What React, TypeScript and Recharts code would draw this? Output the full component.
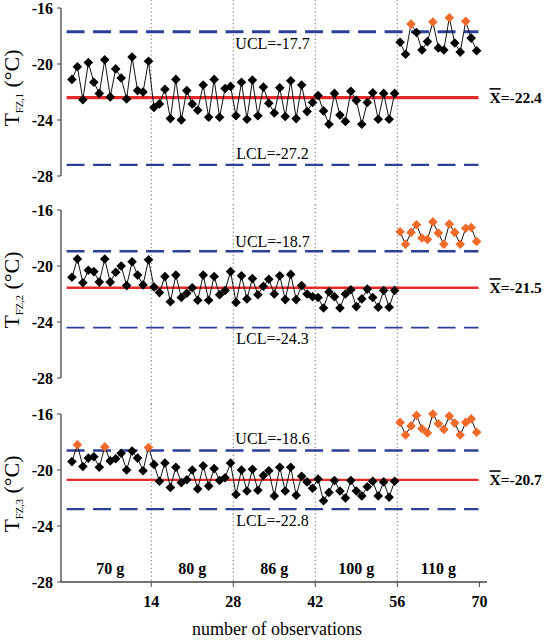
import React from 'react';
import { ComposedChart, Line, XAxis, YAxis, ReferenceLine, ReferenceDot } from 'recharts';

// 75 observations: 5 loads x 15 observations, spread over the 0-70 axis
const observationsPerLoad = 15;
const loadCount = 5;
const axisSpan = 70;
const xTicks = [14, 28, 42, 56, 70];
const yTicks = [-28, -24, -20, -16];
const dividers = [14, 28, 42, 56];
const loadLabels = ['70 g', '80 g', '86 g', '100 g', '110 g'];
const loadCentres = [7, 21, 35, 49, 63];

const tfz1 = [
  -21.1, -20.2, -22.55, -19.9, -21.3, -22.1, -19.7, -22.35, -20.35, -21.0, -22.5, -19.5, -21.9, -22.0, -19.8,
  -23.1, -22.85, -21.8, -23.9, -21.1, -24.0, -21.9, -22.85, -23.3, -21.5, -23.8, -21.1, -23.8, -21.75, -21.6,
  -23.7, -21.3, -23.95, -21.15, -23.7, -21.65, -22.8, -23.5, -21.7, -23.75, -21.2, -23.9, -21.5, -23.4, -22.75,
  -22.25, -23.35, -24.3, -22.1, -23.65, -24.1, -21.95, -22.6, -24.3, -22.75, -22.05, -23.95, -22.1, -23.95, -22.1,
  -18.45, -19.3, -17.15, -17.75, -19.0, -18.4, -17.0, -18.85, -19.0, -16.7, -18.5, -19.15, -16.95, -18.15, -19.05,
];
const tfz2 = [
  -20.8, -19.5, -21.2, -20.3, -20.4, -21.15, -19.5, -21.15, -20.45, -20.0, -21.4, -19.7, -20.65, -21.35, -19.55,
  -21.5, -21.9, -20.75, -22.55, -20.65, -22.25, -21.95, -21.55, -22.45, -20.65, -22.45, -20.75, -22.05, -21.75, -20.4,
  -22.6, -20.7, -22.35, -20.9, -22.05, -21.45, -20.95, -22.0, -20.7, -22.4, -20.6, -22.4, -21.4, -22.0, -22.2,
  -22.25, -23.0, -21.85, -22.2, -23.0, -22.0, -21.7, -22.9, -22.35, -21.65, -22.25, -22.95, -21.75, -22.95, -21.75,
  -17.55, -18.45, -17.6, -17.05, -18.0, -18.1, -16.85, -17.65, -18.45, -17.0, -17.6, -18.45, -17.3, -17.25, -18.25,
];
const tfz3 = [
  -19.4, -18.2, -19.75, -19.15, -19.05, -19.8, -18.35, -19.35, -19.2, -18.8, -20.0, -18.65, -19.15, -20.05, -18.4,
  -19.6, -20.8, -19.5, -21.25, -19.8, -20.9, -20.7, -20.0, -21.35, -19.7, -21.15, -19.9, -20.75, -20.55, -19.5,
  -21.75, -20.0, -21.5, -19.95, -21.45, -20.4, -20.05, -21.85, -19.8, -21.5, -19.8, -21.8, -20.45, -20.85, -21.3,
  -20.65, -22.2, -21.6, -20.75, -21.5, -22.0, -20.75, -21.5, -21.85, -21.2, -20.8, -21.85, -20.85, -21.95, -20.8,
  -16.6, -17.5, -16.85, -16.1, -17.05, -17.35, -16.0, -16.7, -17.1, -16.15, -16.65, -17.5, -16.6, -16.35, -17.3,
];

const panelSubscripts = ['FZ,1', 'FZ,2', 'FZ,3'];
const uclLabels = ['-17.7', '-18.7', '-18.6'];
const uclValues = [-17.7, -18.95, -18.6];
const meanLabels = ['-22.4', '-21.5', '-20.7'];
const meanValues = [-22.4, -21.55, -20.7];
const lclLabels = ['-27.2', '-24.3', '-22.8'];
const lclValues = [-27.2, -24.4, -22.8];
const limitStart = -0.45;
const limitEnd = 69.85;

const ORANGE = '#F26A2A';
const BLUE = '#2F3F98';
const RED = '#E42A2A';
const AXIS = '#444';
const SERIF = "'Liberation Serif', 'Times New Roman', serif";

const spacing = axisSpan / (observationsPerLoad * loadCount);

function buildRows(values: number[]) {
  const split = observationsPerLoad * (loadCount - 1);
  return values.map((v, i) => ({
    x: (i + 0.5) * spacing,
    a: i < split ? v : null,
    b: i >= split ? v : null,
  }));
}

const makeDot = (ucl: number, key: string) => (props: any) => {
  const { cx, cy, index, payload } = props;
  const value = payload ? payload[key] : null;
  if (cx == null || cy == null || value == null || isNaN(cx) || isNaN(cy)) {
    return <g key={`e${key}${index}`} />;
  }
  const r = 4.8;
  return (
    <path
      key={`d${key}${index}`}
      d={`M${cx},${cy - r}L${cx + r},${cy}L${cx},${cy + r}L${cx - r},${cy}Z`}
      fill={value > ucl ? ORANGE : '#000'}
    />
  );
};

const centredText = (text: string, dy: number) => (p: any) => {
  const vb = p.viewBox || {};
  return (
    <text x={vb.x + vb.width / 2} y={vb.y + dy} textAnchor="middle" fontFamily={SERIF} fontSize={16} fill="#000">
      {text}
    </text>
  );
};

const meanText = (text: string) => (p: any) => {
  const vb = p.viewBox || {};
  return (
    <text x={vb.x + vb.width + 11} y={vb.y + 5.5} textAnchor="start" fontFamily={SERIF} fontSize={15.5} fontWeight={700} fill="#000">
      <tspan style={{ textDecoration: 'overline' }}>X</tspan>
      <tspan>={text}</tspan>
    </text>
  );
};

const yLabel = (sub: string) => (p: any) => {
  const vb = p.viewBox || {};
  const cx = 19;
  const cy = vb.y + vb.height / 2 - 4;
  return (
    <text x={cx} y={cy} transform={`rotate(-90 ${cx} ${cy})`} textAnchor="middle" fontFamily={SERIF} fontSize={22} fill="#000">
      <tspan>T</tspan>
      <tspan fontSize={10.5} dy={4}>{sub}</tspan>
      <tspan dy={-4}> (°C)</tspan>
    </text>
  );
};

const groupText = (text: string) => (p: any) => {
  const vb = p.viewBox || {};
  return (
    <text x={vb.x + vb.width / 2} y={vb.y + vb.height / 2} textAnchor="middle" fontFamily={SERIF} fontSize={16} fontWeight={700} fill="#000">
      {text}
    </text>
  );
};

const xTitle = (p: any) => {
  const vb = p.viewBox || {};
  return (
    <text x={vb.x + vb.width / 2 + 3} y={vb.y + 53} textAnchor="middle" fontFamily={SERIF} fontSize={18} fill="#000">
      number of observations
    </text>
  );
};

type Layout = {
  height: number;
  mTop: number;
  mBottom: number;
  xHeight: number;
  showX: boolean;
  uclDy: number;
  lclDy: number;
  divTop: number;
  divBottom: number;
  uclWidth: number;
  meanWidth: number;
  lclWidth: number;
};

const layouts: Layout[] = [
  { height: 202, mTop: 8, mBottom: 26, xHeight: 0, showX: false, uclDy: 17.5, lclDy: -5.7, divTop: -15.4, divBottom: -30, uclWidth: 3, meanWidth: 3.4, lclWidth: 2.2 },
  { height: 202, mTop: 8, mBottom: 26, xHeight: 0, showX: false, uclDy: -4.5, lclDy: 16.5, divTop: -15.3, divBottom: -30, uclWidth: 2.6, meanWidth: 2.5, lclWidth: 1.8 },
  { height: 236, mTop: 10, mBottom: 0, xHeight: 58, showX: true, uclDy: -6.5, lclDy: 17, divTop: -15.0, divBottom: -28, uclWidth: 2.5, meanWidth: 2.2, lclWidth: 2.3 },
];

function Panel({ k }: { k: number }) {
  const values = [tfz1, tfz2, tfz3][k];
  const L = layouts[k];
  const rows = buildRows(values);
  const uclNum = parseFloat(uclLabels[k]);
  return (
    <ComposedChart
      width={546}
      height={L.height}
      data={rows}
      margin={{ top: L.mTop, right: 59, bottom: L.mBottom, left: 0 }}
    >
      <XAxis
        dataKey="x"
        type="number"
        domain={[-1.4, 71.3]}
        ticks={xTicks}
        height={L.xHeight}
        tick={L.showX ? { fontFamily: SERIF, fontSize: 16, fontWeight: 700, fill: '#000' } : false}
        tickLine={L.showX ? { stroke: AXIS } : false}
        tickSize={5}
        tickMargin={9}
        axisLine={{ stroke: AXIS, strokeWidth: 1.3 }}
        label={L.showX ? xTitle : undefined}
        interval={0}
      />
      <YAxis
        type="number"
        domain={[-28, -16]}
        ticks={yTicks}
        width={61}
        tick={{ fontFamily: SERIF, fontSize: 16, fontWeight: 700, fill: '#000' }}
        tickLine={{ stroke: AXIS }}
        tickSize={4}
        tickMargin={4}
        axisLine={{ stroke: AXIS, strokeWidth: 1.3 }}
        label={yLabel(panelSubscripts[k])}
        interval={0}
      />
      {dividers.map((d) => (
        <ReferenceLine
          key={`v${d}`}
          segment={[{ x: d, y: L.divTop }, { x: d, y: L.divBottom }]}
          ifOverflow="visible"
          stroke="#8a8a8a"
          strokeWidth={1.2}
          strokeDasharray="1.3 2.6"
        />
      ))}
      <ReferenceLine
        segment={[{ x: limitStart, y: uclValues[k] }, { x: limitEnd, y: uclValues[k] }]}
        ifOverflow="visible"
        stroke={BLUE}
        strokeWidth={L.uclWidth}
        strokeDasharray="18 8.5"
        label={centredText(`UCL=${uclLabels[k]}`, L.uclDy)}
      />
      <ReferenceLine
        segment={[{ x: limitStart, y: lclValues[k] }, { x: limitEnd, y: lclValues[k] }]}
        ifOverflow="visible"
        stroke={BLUE}
        strokeWidth={L.lclWidth}
        strokeDasharray="18 8.5"
        label={centredText(`LCL=${lclLabels[k]}`, L.lclDy)}
      />
      <ReferenceLine
        segment={[{ x: limitStart, y: meanValues[k] }, { x: limitEnd, y: meanValues[k] }]}
        ifOverflow="visible"
        stroke={RED}
        strokeWidth={L.meanWidth}
        label={meanText(meanLabels[k])}
      />
      {L.showX &&
        loadLabels.map((lab, i) => (
          <ReferenceDot
            key={lab}
            x={loadCentres[i]}
            y={-27.4}
            r={1}
            fill="none"
            stroke="none"
            label={groupText(lab)}
          />
        ))}
      <Line
        dataKey="a"
        stroke="#111"
        strokeWidth={1}
        dot={makeDot(uclNum, 'a')}
        activeDot={false}
        isAnimationActive={false}
        connectNulls={false}
      />
      <Line
        dataKey="b"
        stroke="#111"
        strokeWidth={1}
        dot={makeDot(uclNum, 'b')}
        activeDot={false}
        isAnimationActive={false}
        connectNulls={false}
      />
    </ComposedChart>
  );
}

export default function App() {
  return (
    <div style={{ position: 'absolute', left: 0, top: 0, width: 546, height: 640, background: '#fff' }}>
      <div style={{ position: 'absolute', left: 0, top: 0 }}>
        <Panel k={0} />
      </div>
      <div style={{ position: 'absolute', left: 0, top: 202 }}>
        <Panel k={1} />
      </div>
      <div style={{ position: 'absolute', left: 0, top: 404 }}>
        <Panel k={2} />
      </div>
    </div>
  );
}
